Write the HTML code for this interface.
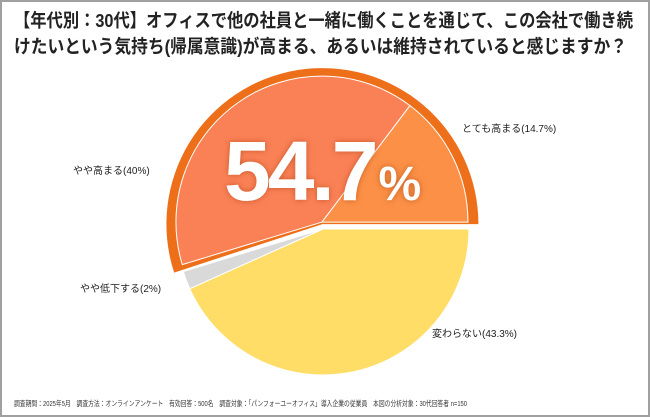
<!DOCTYPE html>
<html><head><meta charset="utf-8"><style>
body{margin:0;background:#fff;}
#wrap{position:relative;width:650px;height:417px;overflow:hidden;font-family:"Liberation Sans","Noto Sans CJK JP",sans-serif;}
svg{position:absolute;left:0;top:0;}
</style></head><body>
<div id="wrap">
<svg id="chart" width="650" height="417">
<rect x="1" y="1" width="648" height="415" fill="#fff" stroke="#a0a0a0" stroke-width="2"/>
<text x="14" y="27" font-size="18.5" font-weight="bold" fill="#222" textLength="619" lengthAdjust="spacingAndGlyphs">【年代別：30代】オフィスで他の社員と一緒に働くことを通じて、この会社で働き続</text>
<text x="14" y="53" font-size="18.5" font-weight="bold" fill="#222" textLength="613" lengthAdjust="spacingAndGlyphs">けたいという気持ち(帰属意識)が高まる、あるいは維持されていると感じますか？</text>
<g id="pie"></g>
<text x="14" y="406" font-size="7.2" fill="#333" textLength="453" lengthAdjust="spacingAndGlyphs">調査期間：2025年5月　調査方法：オンラインアンケート　有効回答：500名　調査対象：「パンフォーユーオフィス」導入企業の従業員　本図の分析対象：30代回答者 n=150</text>
</svg>
</div>
<script>
const categories=["変わらない","やや低下する","やや高まる","とても高まる"];
const values=[43.3,2,40,14.7];
const labels=["変わらない(43.3%)","やや低下する(2%)","やや高まる(40%)","とても高まる(14.7%)"];
const highlightValue="54.7";
const colors=["#FFDD66","#D9D9D9","#FA8055","#FB9046"];
const labelPos=[[432,337],[80,292],[73,174],[462,132]];
const cx=323,cy=229,r=146,ns="http://www.w3.org/2000/svg";
const g=document.getElementById('pie');
const total=values.reduce((a,b)=>a+b,0);
function pt(a,rr,ox,oy){const t=a*Math.PI/180;return[cx+ox+rr*Math.cos(t),cy+oy+rr*Math.sin(t)];}
function arc(a0,a1,rr,ox,oy){const p0=pt(a0,rr,ox,oy),p1=pt(a1,rr,ox,oy);const lg=(a1-a0)>180?1:0;
return `M${cx+ox},${cy+oy}L${p0[0]},${p0[1]}A${rr},${rr} 0 ${lg} 1 ${p1[0]},${p1[1]}Z`;}
const angles=[];let acc=0;
values.forEach(v=>{const a0=acc/total*360;acc+=v;angles.push([a0,acc/total*360]);});
[0,1].forEach(i=>{const p=document.createElementNS(ns,'path');
p.setAttribute('d',arc(angles[i][0],angles[i][1],r,0,0));p.setAttribute('fill',colors[i]);p.setAttribute('stroke','#fff');p.setAttribute('stroke-width','1');


g.appendChild(p);});
const ha0=angles[2][0],ha1=angles[3][1],mid=(ha0+ha1)/2*Math.PI/180;
const ox=7*Math.cos(mid),oy=7*Math.sin(mid);
const hb=document.createElementNS(ns,'path');
hb.setAttribute('d',arc(ha0-1.2,ha1,r+10,ox-3*Math.cos(mid),oy+2));hb.setAttribute('fill','#EE6F1A');


g.appendChild(hb);
[2,3].forEach(i=>{const p=document.createElementNS(ns,'path');
p.setAttribute('d',arc(angles[i][0],angles[i][1],r,ox,oy));p.setAttribute('fill',colors[i]);p.setAttribute('stroke','#fff');p.setAttribute('stroke-width','1');


g.appendChild(p);});
labels.forEach((l,i)=>{const t=document.createElementNS(ns,'text');
t.setAttribute('x',labelPos[i][0]);t.setAttribute('y',labelPos[i][1]);t.setAttribute('font-size','10');t.setAttribute('fill','#222');t.textContent=l;


g.appendChild(t);});
const big=document.createElementNS(ns,'text');
big.setAttribute('x','224');big.setAttribute('y','200');big.setAttribute('fill','#fff');big.setAttribute('font-weight','bold');
big.setAttribute('style','filter:drop-shadow(0 0 3px rgba(150,50,0,0.5))');
big.innerHTML='<tspan font-size="84" letter-spacing="-3">'+highlightValue+'</tspan><tspan font-size="48" dx="3">%</tspan>';


g.appendChild(big);
</script>
</body></html>
